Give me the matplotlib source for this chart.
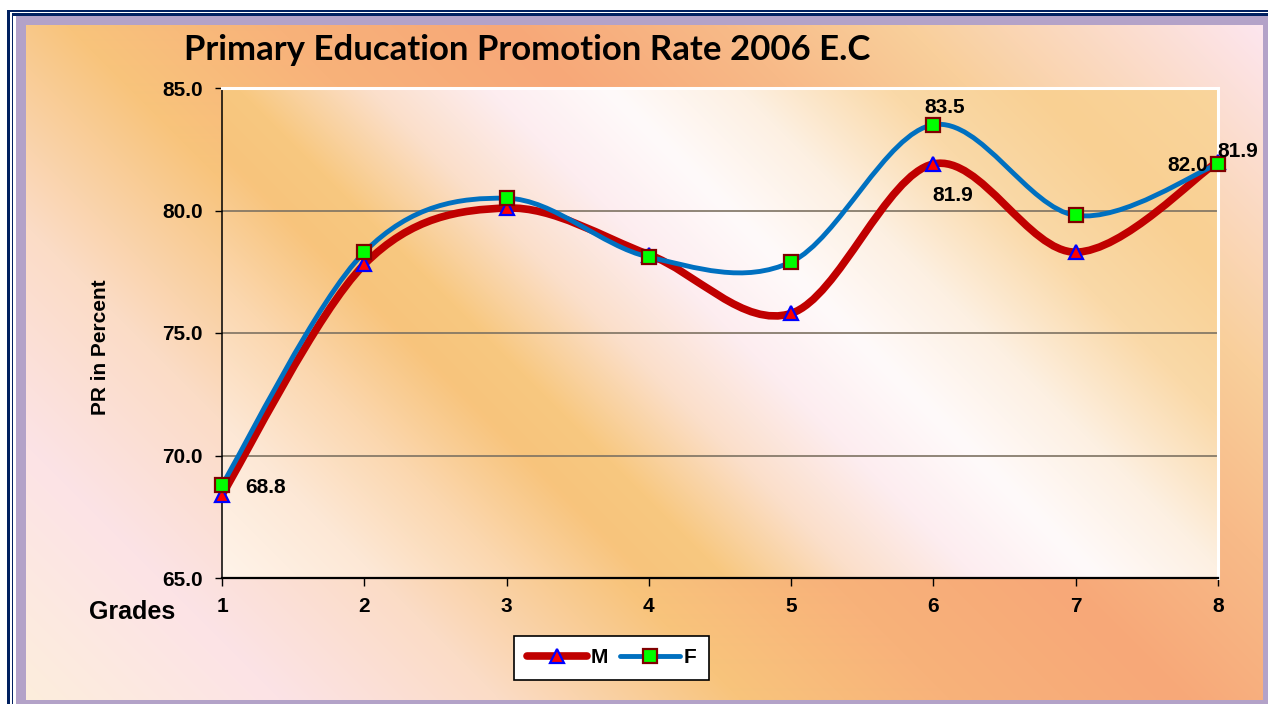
import numpy as np
import matplotlib
matplotlib.use("Agg")
import matplotlib.pyplot as plt
from matplotlib.path import Path
from matplotlib.patches import PathPatch, Rectangle
from matplotlib.lines import Line2D
from matplotlib.ticker import FormatStrFormatter
from matplotlib.colors import to_rgb

# promotion rate by grade, 2006 E.C.
grades = [1, 2, 3, 4, 5, 6, 7, 8]
male_pr = [68.4, 77.8, 80.1, 78.2, 75.8, 81.9, 78.3, 82.0]
female_pr = [68.8, 78.3, 80.5, 78.1, 77.9, 83.5, 79.8, 81.9]
y_ticks = [65.0, 70.0, 75.0, 80.0, 85.0]
series_names = ["M", "F"]

W, H = 1268, 704
ARIAL = "Liberation Sans"

fig = plt.figure(figsize=(W / 100, H / 100), dpi=100)


def px_box(x0, y0, x1, y1):
    # pixel box (origin top-left) -> [left, bottom, width, height] in figure fraction
    return [x0 / W, 1 - y1 / H, (x1 - x0) / W, (y1 - y0) / H]


def diagonal_gradient(x0, y0, x1, y1, stops):
    xs = np.arange(x0, x1) + 0.5
    ys = np.arange(y0, y1) + 0.5
    t = xs[None, :] - ys[:, None]
    pos = [s[0] for s in stops]
    cols = np.array([to_rgb(s[1]) for s in stops])
    return np.stack([np.interp(t, pos, cols[:, k]) for k in range(3)], axis=-1)


def smooth_path(xs, ys):
    # Catmull-Rom style bezier through every point (like Excel's smoothed lines)
    p = np.column_stack([xs, ys]).astype(float)
    ext = np.vstack([p[0], p, p[-1]])
    verts, codes = [p[0]], [Path.MOVETO]
    for i in range(len(p) - 1):
        c1 = p[i] + (ext[i + 2] - ext[i]) / 6
        c2 = p[i + 1] - (ext[i + 3] - ext[i + 1]) / 6
        verts += [c1, c2, p[i + 1]]
        codes += [Path.CURVE4] * 3
    return Path(verts, codes)


# frame: double navy rule, then lavender border
frame = [((7, 10), "#002060"), ((10, 12), "white"), ((12, 13.4), "#002060"),
         ((13.4, 16), "white"), ((16, 16), "#b3a2c8")]
for (fx, fy), col in frame:
    fig.add_artist(Rectangle((fx / W, 0), 1, 1 - fy / H, transform=fig.transFigure,
                             facecolor=col, edgecolor="none", zorder=-5))

# chart area background
bx0, by0, bx1, by1 = 26, 25, 1263, 700
bg = fig.add_axes(px_box(bx0, by0, bx1, by1))
bg.set_zorder(-1)
bg_img = diagonal_gradient(bx0, by0, bx1, by1, [
    (-680, "#fdeedc"), (-420, "#fce3e6"), (-200, "#fbdcc6"), (40, "#f8c47c"),
    (250, "#f8b27a"), (480, "#f7a878"), (700, "#f8ba88"), (880, "#f9cf9b"),
    (1240, "#fde6f0")])
bg.imshow(bg_img, extent=(0, 1, 0, 1), aspect="auto", origin="upper")
bg.set_xlim(0, 1)
bg.set_ylim(0, 1)
bg.axis("off")

# plot area
px0, py0, px1, py1 = 222, 88, 1218, 578
ax = fig.add_axes(px_box(px0, py0, px1, py1))
plot_img = diagonal_gradient(px0, py0, px1, py1, [
    (-360, "#fff4ea"), (-200, "#fde8d6"), (-60, "#fbd7ae"), (70, "#f8c47c"),
    (150, "#f8c880"), (280, "#fbdfca"), (400, "#fdedf0"), (520, "#fffafa"),
    (650, "#fdf0e2"), (800, "#fad9a8"), (950, "#f9d093"), (1130, "#f9d59c")])
ax.imshow(plot_img, extent=(grades[0], grades[-1], y_ticks[0], y_ticks[-1]),
          aspect="auto", origin="upper", zorder=0)

ax.set_xlim(grades[0], grades[-1])
ax.set_ylim(y_ticks[0], y_ticks[-1])
ax.set_xticks(grades)
ax.set_yticks(y_ticks)
ax.yaxis.set_major_formatter(FormatStrFormatter("%.1f"))
ax.yaxis.grid(True, color="#7d7262", lw=1.2)
ax.tick_params(axis="y", length=5, width=1, pad=9, labelsize=15)
ax.tick_params(axis="x", length=6, width=1, pad=8, labelsize=15)
for lbl in ax.get_xticklabels() + ax.get_yticklabels():
    lbl.set_fontfamily(ARIAL)
    lbl.set_fontweight("bold")
for side in ("top", "right"):
    ax.spines[side].set_color("white")
    ax.spines[side].set_linewidth(2.2)
ax.spines["left"].set_linewidth(1.1)
ax.spines["bottom"].set_linewidth(1.6)

m_style = dict(color="#c00000", lw=5.5)
f_style = dict(color="#0070c0", lw=3.5)
m_marker = dict(marker="^", mfc="#ff0000", mec="#0000ff", mew=1.6, ms=10)
f_marker = dict(marker="s", mfc="#00ff00", mec="#800000", mew=1.6, ms=10.5)

ax.add_patch(PathPatch(smooth_path(grades, male_pr), fill=False, edgecolor=m_style["color"],
                       lw=m_style["lw"], capstyle="round", zorder=3, clip_on=False))
ax.plot(grades, male_pr, ls="none", zorder=4, clip_on=False, **m_marker)
ax.add_patch(PathPatch(smooth_path(grades, female_pr), fill=False, edgecolor=f_style["color"],
                       lw=f_style["lw"], capstyle="round", zorder=5, clip_on=False))
ax.plot(grades, female_pr, ls="none", zorder=6, clip_on=False, **f_marker)

# value labels: (series, grade index, offset px, alignment)
label_spec = [
    (female_pr, 0, (23, -3), "left"),
    (female_pr, 5, (11, 17), "center"),
    (male_pr, 5, (19, -32), "center"),
    (male_pr, 7, (-10, -4), "right"),
    (female_pr, 7, (-1, 12), "left"),
]
for series, i, off, ha in label_spec:
    ax.annotate(f"{series[i]:.1f}", xy=(grades[i], series[i]), xytext=off,
                textcoords="offset pixels", ha=ha, va="center", fontsize=15,
                fontweight="bold", fontfamily=ARIAL, zorder=7, annotation_clip=False)

fig.text(527 / W, 1 - 50 / H, "Primary Education Promotion Rate 2006 E.C",
         ha="center", va="center", fontsize=25, fontweight="bold", fontfamily="Lato")
fig.text(132 / W, 1 - 612 / H, "Grades", ha="center", va="center",
         fontsize=18, fontweight="bold", fontfamily=ARIAL)
fig.text(100 / W, 1 - 347 / H, "PR in Percent", ha="center", va="center", rotation=90,
         fontsize=15, fontweight="bold", fontfamily=ARIAL)

handles = [
    Line2D([], [], solid_capstyle="round", **m_style, **m_marker),
    Line2D([], [], solid_capstyle="round", **f_style, **f_marker),
]
leg = fig.legend(handles, series_names, loc="center", bbox_to_anchor=(611.5 / W, 1 - 657.5 / H),
                 ncol=2, frameon=True, fancybox=False, framealpha=1, edgecolor="black",
                 prop=dict(family=ARIAL, weight="bold", size=15), handlelength=2.9,
                 handletextpad=0.15, columnspacing=0.6, borderpad=0.6)
leg.get_frame().set_linewidth(1.2)

fig.savefig("out.png", dpi=100)
